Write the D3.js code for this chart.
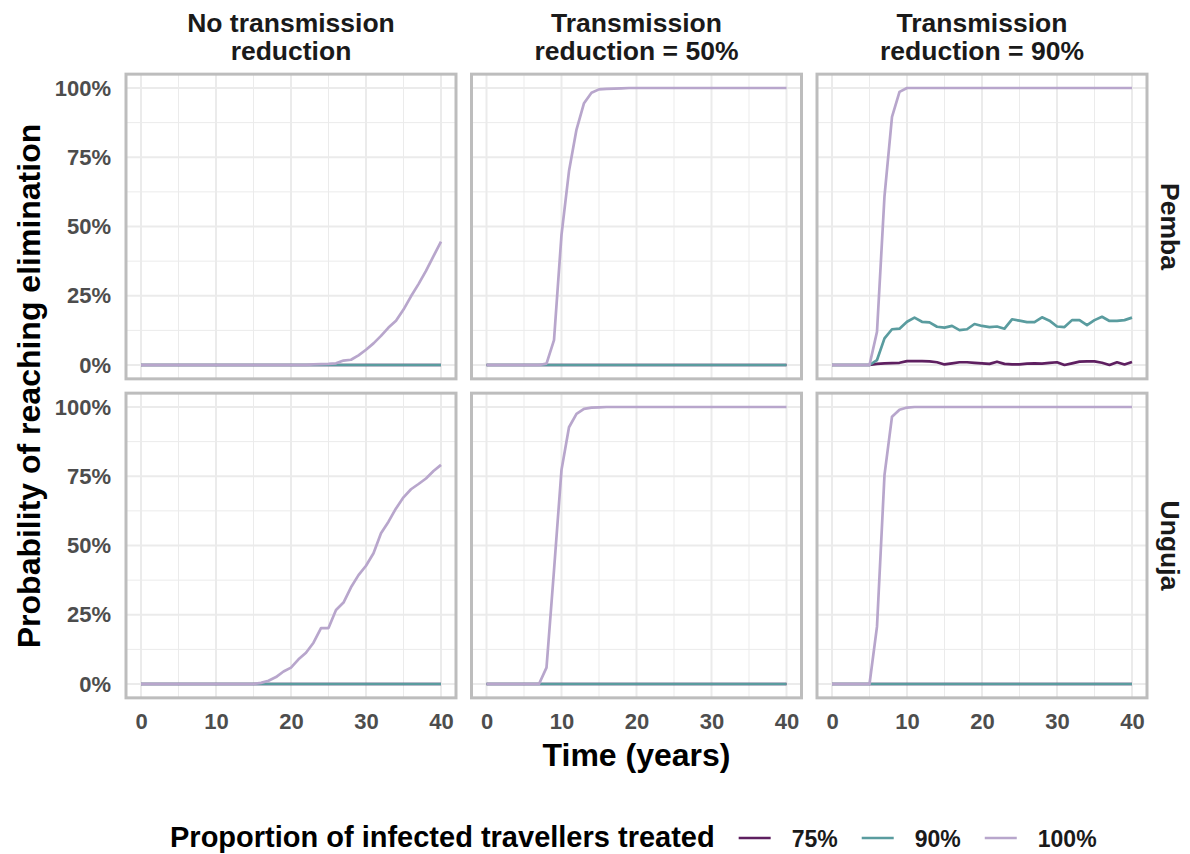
<!DOCTYPE html>
<html>
<head>
<meta charset="utf-8">
<script src="https://cdn.jsdelivr.net/npm/d3@7"></script>
<style>
  html, body { margin: 0; padding: 0; background: #ffffff; }
  svg { display: block; }
  text { font-family: "Liberation Sans", Arial, Helvetica, sans-serif; font-weight: bold; }
</style>
</head>
<body>
<svg id="chart" width="1190" height="854"></svg>
<script>
// ---- data ----------------------------------------------------------------
const years = [0,1,2,3,4,5,6,7,8,9,10,11,12,13,14,15,16,17,18,19,20,
               21,22,23,24,25,26,27,28,29,30,31,32,33,34,35,36,37,38,39,40];

const regions = ["Pemba", "Unguja"];
const scenarios = [
  ["No transmission", "reduction"],
  ["Transmission", "reduction = 50%"],
  ["Transmission", "reduction = 90%"]
];
const treatLevels = ["75%", "90%", "100%"];
const treatColors = ["#5e1f60", "#5a9c9f", "#b8a6cc"];

const xTicks = [0, 10, 20, 30, 40];
const xMinor = [5, 15, 25, 35];
const yTicks = [0, 25, 50, 75, 100];
const yMinor = [12.5, 37.5, 62.5, 87.5];

// probability of reaching elimination (%) by year
const noElimination = [0,0,0,0,0,0,0,0,0,0,0,0,0,0,0,0,0,0,0,0,0,
                       0,0,0,0,0,0,0,0,0,0,0,0,0,0,0,0,0,0,0,0];

// Pemba
const pembaNone100 = [0,0,0,0,0,0,0,0,0,0,0,0,0,0,0,0,0,0,0,0,0,
                      0,0,0.2,0.3,0.4,0.6,1.6,1.9,3.5,5.5,7.8,10.5,13.5,16,20,24.8,29.2,34,39.3,44.5];
const pemba50_100 = [0,0,0,0,0,0,0,0,0.5,9,47,70,85,94.5,98.3,99.5,99.7,99.8,99.9,100,100,
                     100,100,100,100,100,100,100,100,100,100,100,100,100,100,100,100,100,100,100,100];
const pemba90_75 = [0,0,0,0,0,0,0.4,0.6,0.7,0.8,1.4,1.4,1.4,1.3,1.0,0.2,0.6,1.0,1.0,0.8,0.6,
                    0.4,1.2,0.4,0.2,0.2,0.5,0.6,0.5,0.8,1.0,0.0,0.6,1.2,1.3,1.3,0.8,0.0,1.0,0.2,1.1];
const pemba90_90 = [0,0,0,0,0,0,1.8,9.6,12.9,13.1,15.6,17.1,15.6,15.4,13.8,13.5,14.1,12.6,12.9,14.8,14.1,
                    13.7,13.9,13.1,16.5,16.0,15.5,15.5,17.2,16.0,13.9,13.7,16.2,16.2,14.4,16.2,17.4,15.9,15.9,16.2,17.1];
const pemba90_100 = [0,0,0,0,0,0,12,61,89.6,98.6,100,100,100,100,100,100,100,100,100,100,100,
                     100,100,100,100,100,100,100,100,100,100,100,100,100,100,100,100,100,100,100,100];

// Unguja
const ungujaNone100 = [0,0,0,0,0,0,0,0,0,0,0,0,0,0,0,0,0.4,1.2,2.5,4.5,5.9,
                       8.9,11.3,14.9,20.2,20.2,26.7,29.4,34.9,39.3,42.7,47.2,54.4,58.6,63.4,67.4,70.3,72.2,74.2,76.9,79.1];
const unguja50_100 = [0,0,0,0,0,0,0,0,5.9,41,77.3,92.7,97.5,99.3,99.8,99.9,100,100,100,100,100,
                      100,100,100,100,100,100,100,100,100,100,100,100,100,100,100,100,100,100,100,100];
const unguja90_100 = [0,0,0,0,0,0,20.7,75.5,96.5,99,99.8,100,100,100,100,100,100,100,100,100,100,
                      100,100,100,100,100,100,100,100,100,100,100,100,100,100,100,100,100,100,100,100];

// panel grid: [row][column] -> series for 75%, 90%, 100%
const panelSeries = [
  [
    [noElimination, noElimination, pembaNone100],
    [noElimination, noElimination, pemba50_100],
    [pemba90_75, pemba90_90, pemba90_100]
  ],
  [
    [noElimination, noElimination, ungujaNone100],
    [noElimination, noElimination, unguja50_100],
    [noElimination, noElimination, unguja90_100]
  ]
];

// ---- layout --------------------------------------------------------------
const panelW = 330, panelH = 304.7;
const panelX0 = 126, panelStepX = 345.5;
const panelY0 = 74.15, panelStepY = 319;

const svg = d3.select("#chart");
const color = d3.scaleOrdinal().domain(treatLevels).range(treatColors);

const gridColor = "#ebebeb";
const borderColor = "#bdbdbd";
const tickColor = "#4d4d4d";

for (let r = 0; r < regions.length; r++) {
  for (let c = 0; c < scenarios.length; c++) {
    const left = panelX0 + c * panelStepX;
    const top = panelY0 + r * panelStepY;
    const x = d3.scaleLinear().domain([-2, 42]).range([left, left + panelW]);
    const y = d3.scaleLinear().domain([-5, 105]).range([top + panelH, top]);

    const g = svg.append("g");

    // minor grid
    g.selectAll(".vminor").data(xMinor).join("line")
      .attr("x1", d => x(d)).attr("x2", d => x(d))
      .attr("y1", top).attr("y2", top + panelH)
      .attr("stroke", gridColor).attr("stroke-width", 1);
    g.selectAll(".hminor").data(yMinor).join("line")
      .attr("x1", left).attr("x2", left + panelW)
      .attr("y1", d => y(d)).attr("y2", d => y(d))
      .attr("stroke", gridColor).attr("stroke-width", 1);
    // major grid
    g.selectAll(".vmajor").data(xTicks).join("line")
      .attr("x1", d => x(d)).attr("x2", d => x(d))
      .attr("y1", top).attr("y2", top + panelH)
      .attr("stroke", gridColor).attr("stroke-width", 2);
    g.selectAll(".hmajor").data(yTicks).join("line")
      .attr("x1", left).attr("x2", left + panelW)
      .attr("y1", d => y(d)).attr("y2", d => y(d))
      .attr("stroke", gridColor).attr("stroke-width", 2);

    // series lines (100% drawn last, on top)
    const line = d3.line().x((d, i) => x(years[i])).y(d => y(d));
    panelSeries[r][c].forEach((vals, k) => {
      g.append("path")
        .datum(vals)
        .attr("d", line)
        .attr("fill", "none")
        .attr("stroke", color(treatLevels[k]))
        .attr("stroke-width", 2.7)
        .attr("stroke-linejoin", "round");
    });

    // panel border
    g.append("rect")
      .attr("x", left).attr("y", top)
      .attr("width", panelW).attr("height", panelH)
      .attr("fill", "none")
      .attr("stroke", borderColor).attr("stroke-width", 3);

    // y axis labels on the first column
    if (c === 0) {
      const ya = svg.append("g")
        .attr("transform", `translate(${left},0)`)
        .call(d3.axisLeft(y).tickValues(yTicks).tickSize(0).tickPadding(15)
          .tickFormat(d => d + "%"));
      ya.select(".domain").remove();
      ya.selectAll("text")
        .attr("fill", tickColor)
        .style("font-size", "22px")
        .style("font-family", "'Liberation Sans', Arial, sans-serif")
        .style("font-weight", "bold");
    }
    // x axis labels on the bottom row
    if (r === regions.length - 1) {
      const xa = svg.append("g")
        .attr("transform", `translate(0,${top + panelH})`)
        .call(d3.axisBottom(x).tickValues(xTicks).tickSize(0).tickPadding(16));
      xa.select(".domain").remove();
      xa.selectAll("text")
        .attr("fill", tickColor)
        .style("font-size", "22px")
        .style("font-family", "'Liberation Sans', Arial, sans-serif")
        .style("font-weight", "bold");
    }
    // column strip titles
    if (r === 0) {
      const st = svg.append("text")
        .attr("x", left + panelW / 2)
        .attr("y", 32)
        .attr("text-anchor", "middle")
        .attr("fill", "#1a1a1a")
        .style("font-size", "26.5px");
      scenarios[c].forEach((ln, i) => {
        st.append("tspan").attr("x", left + panelW / 2).attr("dy", i === 0 ? 0 : 28).text(ln);
      });
    }
    // row strip titles
    if (c === scenarios.length - 1) {
      const cy = top + panelH / 2;
      svg.append("text")
        .attr("transform", `translate(1161,${cy}) rotate(90)`)
        .attr("text-anchor", "middle")
        .attr("fill", "#1a1a1a")
        .style("font-size", "26.5px")
        .text(regions[r]);
    }
  }
}

// axis titles
const plotLeft = panelX0;
const plotRight = panelX0 + 2 * panelStepX + panelW;
svg.append("text")
  .attr("x", (plotLeft + plotRight) / 2)
  .attr("y", 766)
  .attr("text-anchor", "middle")
  .attr("fill", "#000")
  .style("font-size", "32px")
  .text("Time (years)");

svg.append("text")
  .attr("transform", `translate(40,${(panelY0 + panelStepY + panelH + panelY0) / 2}) rotate(-90)`)
  .attr("text-anchor", "middle")
  .attr("fill", "#000")
  .style("font-size", "32px")
  .text("Probability of reaching elimination");

// legend
const legendY = 847;
const legendTitle = svg.append("text")
  .attr("x", 170).attr("y", legendY)
  .attr("fill", "#000")
  .style("font-size", "29px")
  .text("Proportion of infected travellers treated");
let lx = 170 + legendTitle.node().getComputedTextLength() + 24;
treatLevels.forEach(level => {
  svg.append("line")
    .attr("x1", lx).attr("x2", lx + 32)
    .attr("y1", legendY - 9).attr("y2", legendY - 9)
    .attr("stroke", color(level)).attr("stroke-width", 2.7);
  const t = svg.append("text")
    .attr("x", lx + 53).attr("y", legendY)
    .attr("fill", "#1a1a1a")
    .style("font-size", "23px")
    .text(level);
  lx += 53 + t.node().getComputedTextLength() + 24;
});
</script>
</body>
</html>
